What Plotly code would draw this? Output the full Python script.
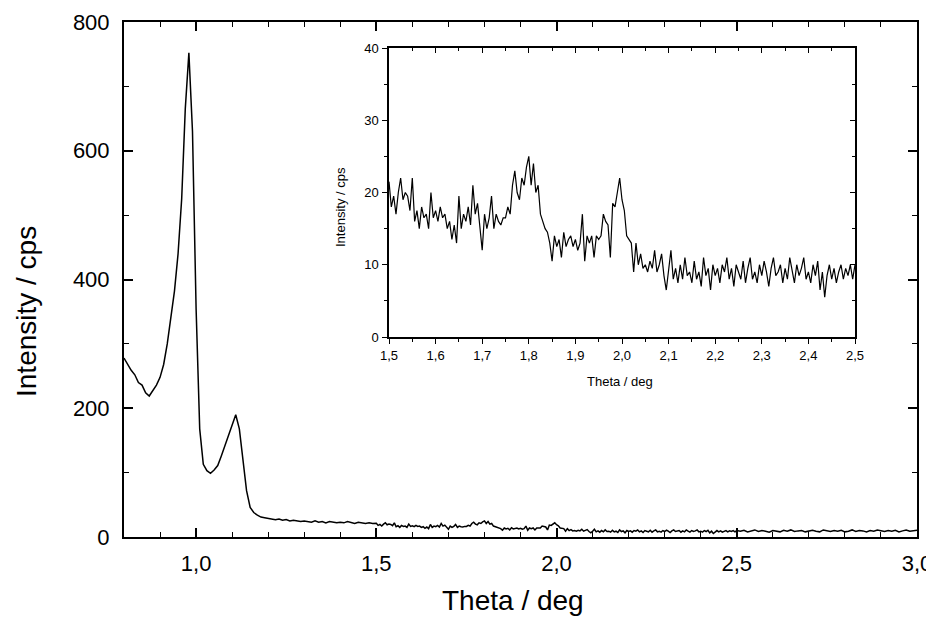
import numpy as np
import plotly.graph_objects as go

# ---------------- data ----------------
# Segment A: theta 0.80 .. 1.49, step 0.01
start_a, step_a = 0.80, 0.01
int_a = [
    278, 268, 259, 252, 240, 236, 224, 219, 228, 236,
    248, 268, 300, 338, 382, 440, 525, 665, 752, 630,
    355, 168, 113, 103, 99, 104, 111, 126, 142, 160,
    175, 190, 168, 122, 72, 46, 38, 34, 31, 30,
    29, 28, 27, 28, 26, 27, 25, 26, 25, 24,
    25, 24, 23, 25, 23, 24, 22, 24, 23, 22,
    23, 22, 24, 22, 21, 23, 22, 21, 22, 21,
]

# Segment B: theta 1.500 .. 2.500, step 0.005 (also shown in the inset)
start_b, step_b = 1.500, 0.005
int_b = [
    21.5, 18, 19.5, 17, 20, 22, 19, 20, 19.5, 17.5,
    22, 16, 17.5, 15, 18, 16.5, 17, 15, 20, 16.5,
    17.5, 16, 18, 16.5, 17, 15, 16, 13.5, 15.5, 13,
    19.5, 15, 17, 16, 18, 15.5, 21, 17, 18.5, 15,
    12, 17, 15, 16.5, 19.5, 15, 17, 16, 15.5, 16.5,
    16.5, 18, 17, 21, 23, 20, 19, 22, 21, 23.5,
    25, 21, 24, 20, 21, 17, 16, 15, 14.5, 13,
    10.5, 14, 12.5, 13.5, 11, 14.5, 12.5, 13.5, 14, 12.5,
    13.5, 12, 13, 17, 10.5, 14, 13, 14, 11, 14,
    13.5, 14, 17, 16, 15.5, 11, 18.5, 18, 20, 22,
    19, 17.5, 14, 13.5, 13, 9, 13, 10, 11.5, 9.5,
    10, 9, 10.5, 9.5, 12, 9, 10, 11.5, 8.5, 6.5,
    9, 12, 8, 9.5, 7.5, 10, 8, 11, 8.5, 9,
    7.5, 10.5, 8, 9, 7, 11, 8.5, 9.5, 6.5, 10,
    8.5, 9.5, 7.5, 10, 9, 11, 8, 9.5, 7, 10,
    9, 8, 10.5, 7.5, 9.5, 11, 8, 9, 7.5, 10,
    8.5, 10.5, 9, 7, 9.5, 11, 8.5, 9, 10, 7.5,
    9.5, 8, 11, 9, 7.5, 10, 8.5, 9.5, 11, 8,
    9, 7.5, 10, 8.5, 10.5, 6.5, 9, 5.5, 8.5, 10,
    8, 9.5, 7.5, 9, 10, 8, 9.5, 8.5, 10, 8,
    10,
]

# Segment C: theta 2.51 .. 3.00, step 0.01
start_c, step_c = 2.51, 0.01
int_c = [
    9, 10.5, 8, 9.5, 11, 8.5, 10, 9, 7.5, 10,
    9.5, 8, 10.5, 9, 11, 8.5, 9.5, 10, 8, 9,
    10.5, 9, 8, 11, 9.5, 8.5, 10, 9, 10.5, 8,
    9, 11, 8.5, 10, 9.5, 8, 10, 9, 11, 9.5,
    8.5, 10, 9, 10.5, 8, 9.5, 11, 9, 10, 10.5,
]

main_xticks = [1.0, 1.5, 2.0, 2.5, 3.0]
main_xticktext = ["1,0", "1,5", "2,0", "2,5", "3,0"]
main_yticks = [0, 200, 400, 600, 800]
inset_xticks = [1.5, 1.6, 1.7, 1.8, 1.9, 2.0, 2.1, 2.2, 2.3, 2.4, 2.5]
inset_xticktext = ["1,5", "1,6", "1,7", "1,8", "1,9", "2,0", "2,1", "2,2", "2,3", "2,4", "2,5"]
inset_yticks = [0, 10, 20, 30, 40]

# ---------------- build ----------------
th_a = np.round(start_a + step_a * np.arange(len(int_a)), 4)
th_b = np.round(start_b + step_b * np.arange(len(int_b)), 4)
th_c = np.round(start_c + step_c * np.arange(len(int_c)), 4)
theta_all = np.concatenate([th_a, th_b, th_c])
int_all = np.concatenate([int_a, int_b, int_c])

W, H = 934, 618
OFF = 8  # default page margin of the html body
def px(x):
    return (x - OFF) / W
def py(y):
    return 1 - (y - OFF) / H

FONT = "Liberation Sans, Arial, Helvetica, sans-serif"

fig = go.Figure()
fig.add_trace(go.Scatter(x=theta_all, y=int_all, mode="lines",
                         line=dict(color="black", width=1.5),
                         xaxis="x", yaxis="y", hoverinfo="skip", showlegend=False))
fig.add_trace(go.Scatter(x=th_b, y=int_b, mode="lines",
                         line=dict(color="black", width=1.2),
                         xaxis="x2", yaxis="y2", hoverinfo="skip", showlegend=False))
fig.add_trace(go.Scatter(x=th_b, y=int_b, mode="lines",
                         line=dict(color="rgba(0,0,0,0)", width=0),
                         xaxis="x3", yaxis="y3", hoverinfo="skip", showlegend=False))

axis_common = dict(showgrid=False, zeroline=False, showline=True, linecolor="black",
                   tickcolor="black", automargin=False)

fig.update_layout(
    width=W, height=H,
    margin=dict(l=0, r=0, t=0, b=0, autoexpand=False),
    paper_bgcolor="white", plot_bgcolor="white",
    font=dict(family=FONT, color="black"),
    showlegend=False,
    xaxis=dict(**axis_common, domain=[px(124), px(917)], anchor="y",
               range=[0.8, 3.0], tickmode="array", tickvals=main_xticks,
               ticktext=main_xticktext, ticks="inside", ticklen=9, tickwidth=1.5,
               linewidth=2, mirror="ticks", tickfont=dict(size=22),
               ticklabelstandoff=6,
               minor=dict(dtick=0.1, tick0=0, ticks="inside", ticklen=5,
                          tickwidth=1.2, tickcolor="black")),
    yaxis=dict(**axis_common, domain=[py(537), py(22)], anchor="x",
               range=[0, 800], tickmode="array", tickvals=main_yticks,
               ticks="inside", ticklen=9, tickwidth=1.5,
               linewidth=2, mirror="ticks", tickfont=dict(size=22),
               ticklabelstandoff=8,
               minor=dict(dtick=100, tick0=0, ticks="inside", ticklen=5,
                          tickwidth=1.2, tickcolor="black")),
    xaxis2=dict(**axis_common, domain=[px(389), px(855)], anchor="y2",
                range=[1.5, 2.5], tickmode="array", tickvals=inset_xticks,
                ticktext=inset_xticktext, ticks="outside", ticklen=5, tickwidth=1.2,
                linewidth=1.5, mirror=True, tickfont=dict(size=13),
                ticklabelstandoff=1,
                minor=dict(dtick=0.05, tick0=0, ticks="outside", ticklen=3,
                           tickwidth=1, tickcolor="black")),
    yaxis2=dict(**axis_common, domain=[py(337), py(48)], anchor="x2",
                range=[0, 40], tickmode="array", tickvals=inset_yticks,
                ticks="outside", ticklen=5, tickwidth=1.2,
                linewidth=1.5, mirror=True, tickfont=dict(size=13),
                ticklabelstandoff=1,
                minor=dict(dtick=5, tick0=0, ticks="outside", ticklen=3,
                           tickwidth=1, tickcolor="black")),
    xaxis3=dict(showgrid=False, zeroline=False, showline=False, automargin=False,
                overlaying="x2", anchor="y2", side="top",
                range=[1.5, 2.5], tickmode="array", tickvals=inset_xticks,
                showticklabels=False, ticks="inside", ticklen=5, tickwidth=1.2,
                tickcolor="black",
                minor=dict(dtick=0.05, tick0=0, ticks="inside", ticklen=3,
                           tickwidth=1, tickcolor="black")),
    yaxis3=dict(showgrid=False, zeroline=False, showline=False, automargin=False,
                overlaying="y2", anchor="x2", side="right",
                range=[0, 40], tickmode="array", tickvals=inset_yticks,
                showticklabels=False, ticks="inside", ticklen=5, tickwidth=1.2,
                tickcolor="black",
                minor=dict(dtick=5, tick0=0, ticks="inside", ticklen=3,
                           tickwidth=1, tickcolor="black")),
    annotations=[
        dict(text="Intensity / cps", xref="paper", yref="paper",
             x=px(27), y=py(312), textangle=-90, showarrow=False,
             xanchor="center", yanchor="middle", font=dict(size=28)),
        dict(text="Theta / deg", xref="paper", yref="paper",
             x=px(513), y=py(600), showarrow=False,
             xanchor="center", yanchor="middle", font=dict(size=28)),
        dict(text="Intensity / cps", xref="paper", yref="paper",
             x=px(340), y=py(207), textangle=-90, showarrow=False,
             xanchor="center", yanchor="middle", font=dict(size=13)),
        dict(text="Theta / deg", xref="paper", yref="paper",
             x=px(620), y=py(381), showarrow=False,
             xanchor="center", yanchor="middle", font=dict(size=13)),
    ],
)

fig.write_html("out.html")
